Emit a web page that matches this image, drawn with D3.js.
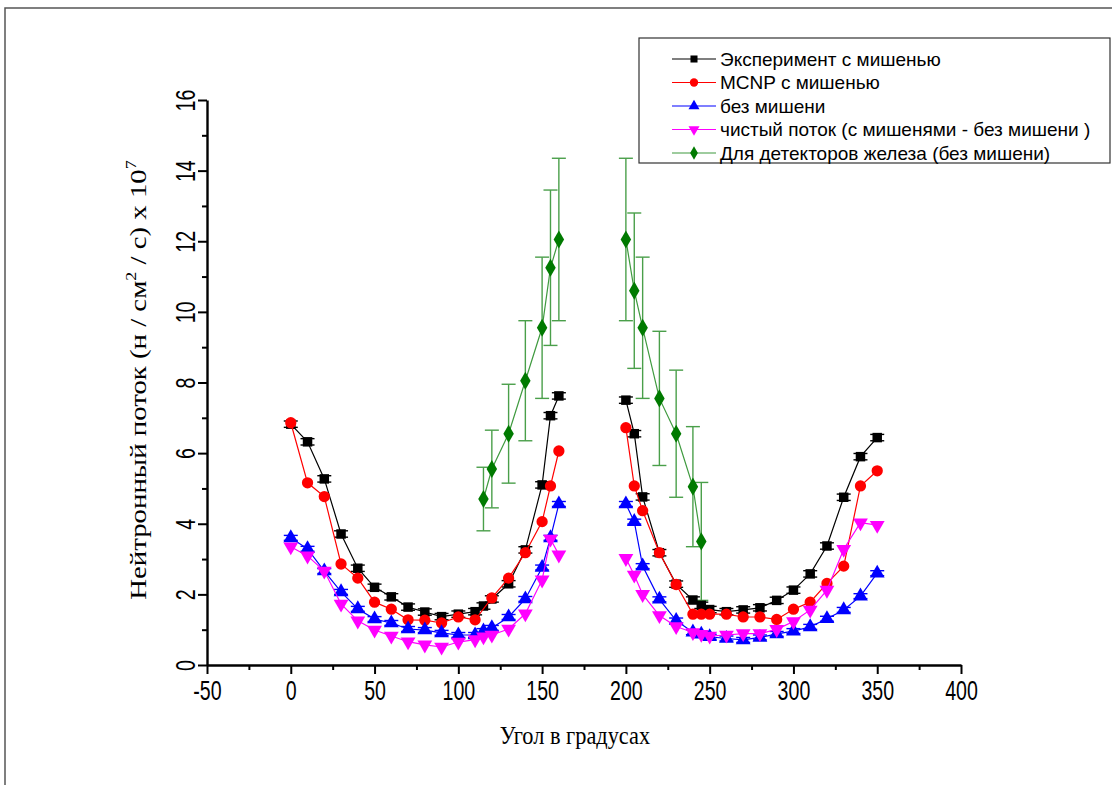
<!DOCTYPE html>
<html>
<head>
<meta charset="utf-8">
<script src="https://cdn.jsdelivr.net/npm/d3@7"></script>
<style>
  body { margin: 0; background: #fff; }
  svg { display: block; }
</style>
</head>
<body>
<svg id="chart" width="1112" height="785"></svg>
<script>
// Angles (degrees) — left and right branches around the beam direction
const anglesLeft = [0,10,20,30,40,50,60,70,80,90,100,110,115,120,130,140,150,155,160];
const anglesRight = [200,205,210,220,230,240,245,250,260,270,280,290,300,310,320,330,340,350];
const mcnpAnglesLeft = [0,10,20,30,40,50,60,70,80,90,100,110,120,130,140,150,155,160];
const ironAngles = [115,120,130,140,150,155,160,200,205,210,220,230,240,245];

// Neutron flux, units of 10^7 n/cm^2/s
const expLeft  = [6.82,6.32,5.27,3.71,2.74,2.20,1.93,1.64,1.50,1.37,1.44,1.51,1.67,1.87,2.30,3.26,5.10,7.06,7.62];
const expRight = [7.50,6.55,4.76,3.18,2.29,1.84,1.69,1.57,1.51,1.56,1.62,1.83,2.12,2.58,3.37,4.75,5.90,6.44];
const mcnpLeft  = [6.86,5.16,4.77,2.86,2.46,1.78,1.58,1.28,1.27,1.19,1.36,1.28,1.90,2.46,3.18,4.06,5.07,6.06];
const mcnpRight = [6.72,5.07,4.37,3.18,2.28,1.44,1.44,1.44,1.44,1.36,1.36,1.29,1.58,1.78,2.31,2.80,5.07,5.50];
const noTargetLeft  = [3.60,3.29,2.66,2.07,1.59,1.30,1.19,1.02,0.99,0.91,0.85,0.85,0.96,1.05,1.36,1.87,2.76,3.60,4.56];
const noTargetRight = [4.56,4.06,2.80,1.86,1.26,0.93,0.87,0.80,0.75,0.71,0.78,0.88,0.96,1.08,1.31,1.56,1.95,2.60];
const netLeft  = [3.35,3.09,2.66,1.73,1.25,0.99,0.82,0.66,0.57,0.51,0.65,0.72,0.80,0.85,1.02,1.45,2.41,3.57,3.12];
const netRight = [3.02,2.55,2.00,1.40,1.09,0.92,0.87,0.82,0.85,0.89,0.89,1.01,1.23,1.56,2.12,3.28,4.03,3.96];
const ironValues = [4.70,5.55,6.55,8.05,9.55,11.25,12.05,12.05,10.60,9.55,7.55,6.55,5.05,3.50];
const ironErrors = [0.90,1.10,1.40,1.70,2.00,2.20,2.30,2.30,2.20,2.00,1.90,1.80,1.70,1.67];
const expError = 0.09;
const noTargetError = 0.07;

const xTicks = [-50,0,50,100,150,200,250,300,350,400];
const yTicks = [0,2,4,6,8,10,12,14,16];

const legendLabels = [
  "Эксперимент с мишенью",
  "MCNP с мишенью",
  "без мишени",
  "чистый поток (с мишенями - без мишени )",
  "Для детекторов железа (без мишени)"
];

const tickFont = "'Liberation Sans', Arial, sans-serif";
const svg = d3.select("#chart");

// outer frame
svg.append("rect")
  .attr("x", 5).attr("y", 8).attr("width", 1130).attr("height", 800)
  .attr("fill", "none").attr("stroke", "#555").attr("stroke-width", 1.5);

const x = d3.scaleLinear().domain([-50, 400]).range([207, 961]);
const y = d3.scaleLinear().domain([0, 16]).range([665, 100]);

// axes
const xAxis = svg.append("g").attr("transform", "translate(0,665)");
xAxis.call(d3.axisBottom(x).tickValues(xTicks).tickSize(9).tickSizeOuter(0).tickFormat(d => String(d)));
xAxis.append("g").call(d3.axisBottom(x).tickValues(d3.range(-25, 400, 50)).tickSize(5).tickFormat(""))
  .select(".domain").remove();
xAxis.selectAll(".domain").attr("stroke-width", 2.4);
xAxis.selectAll(".tick line").attr("stroke-width", 2);
xAxis.selectAll(".tick text")
  .attr("font-family", tickFont)
  .attr("font-size", 28).attr("fill", "#000")
  .attr("y", null).attr("dy", null)
  .attr("transform", "translate(0,35) scale(0.7,1)");

const yAxis = svg.append("g").attr("transform", "translate(207,0)");
yAxis.call(d3.axisLeft(y).tickValues(yTicks).tickSize(9).tickSizeOuter(0).tickFormat(d => String(d)));
yAxis.append("g").call(d3.axisLeft(y).tickValues(d3.range(1, 16, 2)).tickSize(5).tickFormat(""))
  .select(".domain").remove();
yAxis.selectAll(".domain").attr("stroke-width", 2.4);
yAxis.selectAll(".tick text")
  .attr("font-family", tickFont)
  .attr("font-size", 28).attr("fill", "#000")
  .attr("x", null)
  .attr("text-anchor", "middle")
  .attr("transform", "translate(-22,0) rotate(-90) scale(0.7,1)")
  .attr("dy", "0.36em");
yAxis.selectAll(".tick line").attr("stroke-width", 2);

// axis titles
const yTitle = svg.append("text")
  .attr("transform", "translate(146,380) rotate(-90) scale(1.2,1)")
  .attr("text-anchor", "middle")
  .attr("font-family", "'Liberation Serif', 'Times New Roman', serif")
  .attr("font-size", 24).attr("fill", "#000");
yTitle.append("tspan").text("Нейтронный поток (н / см");
yTitle.append("tspan").attr("dy", -10).attr("font-size", 15).text("2");
yTitle.append("tspan").attr("dy", 10).text(" / с) x 10");
yTitle.append("tspan").attr("dy", -10).attr("font-size", 15).text("7");

svg.append("text")
  .attr("transform", "translate(575,744) scale(0.86,1)")
  .attr("text-anchor", "middle")
  .attr("font-family", "'Liberation Serif', 'Times New Roman', serif")
  .attr("font-size", 26).attr("fill", "#000")
  .text("Угол в градусах");

// series definitions
const pairs = (a, v) => a.map((d, i) => ({ a: d, v: v[i] }));
const series = [
  { name: legendLabels[0], color: "#000", symbol: d3.symbolSquare, size: 90,
    branches: [pairs(anglesLeft, expLeft), pairs(anglesRight, expRight)], err: expError, errColor: "#000" },
  { name: legendLabels[1], color: "#ff0000", symbol: d3.symbolCircle, size: 100,
    branches: [pairs(mcnpAnglesLeft, mcnpLeft), pairs(anglesRight, mcnpRight)] },
  { name: legendLabels[2], color: "#0000ff", symbol: d3.symbolTriangle, size: 95,
    branches: [pairs(anglesLeft, noTargetLeft), pairs(anglesRight, noTargetRight)], err: noTargetError, errColor: "#0000ff" },
  { name: legendLabels[3], color: "#ff00ff", symbol: d3.symbolTriangle, size: 95, flip: true,
    branches: [pairs(anglesLeft, netLeft), pairs(anglesRight, netRight)] },
  { name: legendLabels[4], color: "#007a00", line: "#3f9a3f", symbol: d3.symbolDiamond, size: 95,
    branches: [
      ironAngles.slice(0, 7).map((a, i) => ({ a, v: ironValues[i], e: ironErrors[i] })),
      ironAngles.slice(7).map((a, i) => ({ a, v: ironValues[i + 7], e: ironErrors[i + 7] }))
    ], errColor: "#4a9f4a" }
];

const line = d3.line().x(d => x(d.a)).y(d => y(d.v));
const plot = svg.append("g");

// draw order: green first so the lower curves sit on top
const order = [4, 0, 1, 2, 3];
order.forEach(si => {
  const s = series[si];
  const g = plot.append("g");
  s.branches.forEach(b => {
    g.append("path").datum(b).attr("d", line)
      .attr("fill", "none").attr("stroke", s.line || s.color).attr("stroke-width", 1.2);
    // error bars
    b.forEach(d => {
      const e = d.e !== undefined ? d.e : s.err;
      if (e === undefined) return;
      const cx = x(d.a), cap = 7;
      const eg = g.append("g").attr("stroke", s.errColor).attr("stroke-width", 1.4);
      eg.append("line").attr("x1", cx).attr("x2", cx).attr("y1", y(d.v - e)).attr("y2", y(d.v + e));
      eg.append("line").attr("x1", cx - cap).attr("x2", cx + cap).attr("y1", y(d.v - e)).attr("y2", y(d.v - e));
      eg.append("line").attr("x1", cx - cap).attr("x2", cx + cap).attr("y1", y(d.v + e)).attr("y2", y(d.v + e));
    });
    g.selectAll(null).data(b).enter().append("path")
      .attr("d", d3.symbol().type(s.symbol).size(s.size))
      .attr("transform", d => `translate(${x(d.a)},${y(d.v)})${s.flip ? " rotate(180)" : ""}`)
      .attr("fill", s.color);
  });
});

// legend
const legend = svg.append("g");
legend.append("rect")
  .attr("x", 639).attr("y", 38).attr("width", 471).attr("height", 125)
  .attr("fill", "#fff").attr("stroke", "#333").attr("stroke-width", 1.2);
series.forEach((s, i) => {
  const ly = 59 + i * 23.5;
  legend.append("line").attr("x1", 672).attr("x2", 716).attr("y1", ly).attr("y2", ly)
    .attr("stroke", s.line || s.color).attr("stroke-width", 1.2);
  legend.append("path")
    .attr("d", d3.symbol().type(s.symbol).size(s.size * 0.55))
    .attr("transform", `translate(694,${ly})${s.flip ? " rotate(180)" : ""}`)
    .attr("fill", s.color);
  legend.append("text")
    .attr("x", 720).attr("y", ly).attr("dy", "0.36em")
    .attr("font-family", "'Liberation Sans', Arial, sans-serif")
    .attr("font-size", 19).attr("fill", "#000")
    .text(s.name);
});
</script>
</body>
</html>
